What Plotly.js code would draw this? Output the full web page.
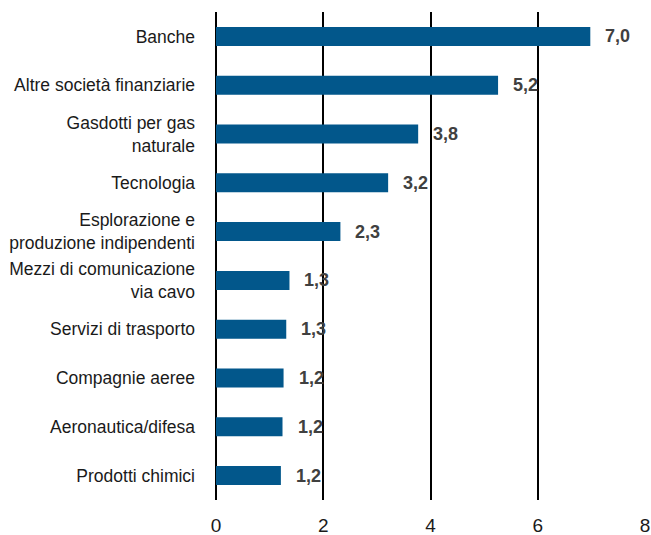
<!DOCTYPE html>
<html>
<head>
<meta charset="utf-8">
<script src="https://cdn.plot.ly/plotly-3.0.1.min.js"></script>
<style>html,body{margin:0;padding:0;background:#fff;}#chart{width:651px;height:535px;}</style>
</head>
<body>
<div id="chart"></div>
<script>
const categories = [
  "Banche",
  "Altre società finanziarie",
  "Gasdotti per gas<br>naturale",
  "Tecnologia",
  "Esplorazione e<br>produzione indipendenti",
  "Mezzi di comunicazione<br>via cavo",
  "Servizi di trasporto",
  "Compagnie aeree",
  "Aeronautica/difesa",
  "Prodotti chimici"
];
const values = [6.98, 5.26, 3.77, 3.21, 2.32, 1.37, 1.31, 1.26, 1.24, 1.21];
const valueLabels = ["7,0", "5,2", "3,8", "3,2", "2,3", "1,3", "1,3", "1,2", "1,2", "1,2"];
const xTicks = [0, 2, 4, 6, 8];

const trace = {
  type: 'bar',
  orientation: 'h',
  x: values,
  y: categories,
  marker: {color: '#02578B', line: {width: 0}},
  width: 0.39,
  hoverinfo: 'skip'
};

const annotations = values.map((v, i) => ({
  x: v, y: categories[i], xref: 'x', yref: 'y',
  text: valueLabels[i], showarrow: false,
  xanchor: 'left', yanchor: 'middle', xshift: 13,
  font: {family: '"Liberation Sans Narrow", "Arial Narrow", "Liberation Sans", Arial, sans-serif', size: 18, color: '#404040', weight: 'bold'}
}));

const layout = {
  width: 651, height: 535,
  margin: {l: 215.5, r: 6, t: 12, b: 35},
  paper_bgcolor: '#fff', plot_bgcolor: '#fff',
  showlegend: false,
  font: {family: '"Liberation Sans", Arial, sans-serif', size: 18, color: '#1a1a1a'},
  xaxis: {
    range: [0, 8], tickvals: xTicks, ticktext: xTicks.map(String),
    showgrid: true, gridcolor: '#000', gridwidth: 2,
    zeroline: true, zerolinecolor: '#000', zerolinewidth: 2,
    showline: false, ticks: '', fixedrange: true,
    tickfont: {size: 19, color: '#1a1a1a'}, ticklabelstandoff: 12
  },
  yaxis: {
    autorange: 'reversed', showgrid: false, zeroline: false, showline: false,
    ticks: '', ticklabelstandoff: 20, tickfont: {size: 17.5, color: '#1a1a1a'},
    fixedrange: true
  },
  annotations: annotations
};

Plotly.newPlot('chart', [trace], layout, {displayModeBar: false, staticPlot: true});
</script>
</body>
</html>
